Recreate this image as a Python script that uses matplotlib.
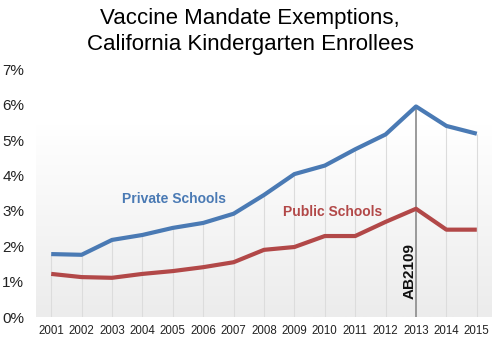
import numpy as np
import matplotlib.pyplot as plt

plt.rcParams['font.family'] = ['Liberation Sans', 'DejaVu Sans']

years = list(range(2001, 2016))
private = [1.78, 1.76, 2.18, 2.32, 2.52, 2.66, 2.92, 3.45, 4.04, 4.28, 4.74, 5.16, 5.95, 5.40, 5.18]
public = [1.22, 1.13, 1.11, 1.22, 1.30, 1.41, 1.55, 1.90, 1.98, 2.29, 2.29, 2.69, 3.06, 2.47, 2.47]
law_year = 2013
law_label = 'AB2109'

blue = '#4a7ab4'
red = '#b24848'

fig = plt.figure(figsize=(5, 3.5), dpi=100)
ax = fig.add_axes([0.072, 0.094, 0.912, 0.708])

# soft gradient behind the plot
grad = np.linspace(0, 1, 100).reshape(-1, 1)
ax.imshow(grad, extent=[2000.5, 2015.5, 0, 5.45], aspect='auto',
          cmap=plt.matplotlib.colors.LinearSegmentedColormap.from_list('g', ['#ececec', '#ffffff']),
          origin='lower', zorder=0)

# drop lines from the private series
for y, v in zip(years, private):
    if y == law_year:
        ax.vlines(y, 0, v, color='#8a8a8a', lw=1.2, zorder=1)
    else:
        ax.vlines(y, 0, v, color='#dcdcdc', lw=0.8, zorder=1)

ax.plot(years, private, color=blue, lw=3, zorder=3, solid_capstyle='butt')
ax.plot(years, public, color=red, lw=3, zorder=3, solid_capstyle='butt')

ax.text(2005.05, 3.35, 'Private Schools', color=blue, fontsize=10, fontweight='bold',
        ha='center', va='center')
ax.text(2010.25, 2.96, 'Public Schools', color=red, fontsize=10, fontweight='bold',
        ha='center', va='center')
ax.text(law_year - 0.2, 1.3, law_label, rotation=90, fontsize=11, fontweight='bold',
        ha='center', va='center', color='#111111')

ax.set_xlim(2000.5, 2015.5)
ax.set_ylim(0, 7)
ax.set_xticks(years)
ax.set_xticklabels([str(y) for y in years], fontsize=8.3, color='#222222')
ax.set_yticks(range(0, 8))
ax.set_yticklabels([f'{i}%' for i in range(0, 8)], fontsize=11, color='#222222')
ax.tick_params(axis='x', length=0, pad=6)
ax.tick_params(axis='y', length=0, pad=8.5)
for s in ax.spines.values():
    s.set_visible(False)

fig.text(0.5, 0.948, 'Vaccine Mandate Exemptions,', ha='center', va='center', fontsize=16)
fig.text(0.5, 0.872, 'California Kindergarten Enrollees', ha='center', va='center', fontsize=16)

fig.savefig('out.png', dpi=100)
